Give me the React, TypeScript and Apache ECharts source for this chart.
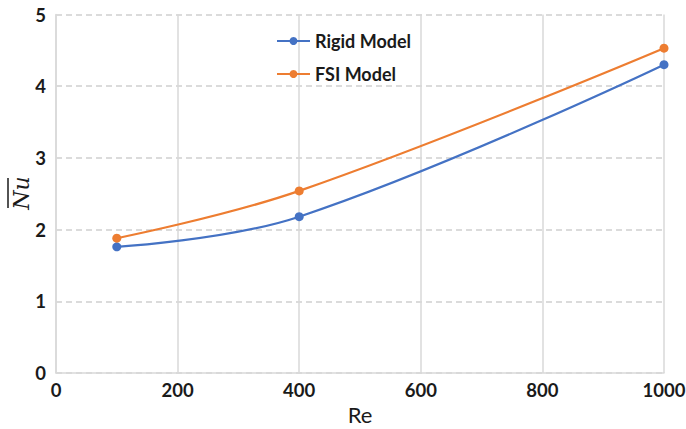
import React, { useEffect, useRef } from "react";
import * as echarts from "echarts";

const reValues = [100, 400, 1000];
const rigidNu = [1.76, 2.18, 4.3];
const fsiNu = [1.88, 2.54, 4.53];
const seriesNames = ["Rigid Model", "FSI Model"];
const xTicks = { min: 0, max: 1000, interval: 200 };
const yTicks = { min: 0, max: 5, interval: 1 };

export default function App() {
  const ref = useRef<HTMLDivElement>(null);
  useEffect(() => {
    if (!ref.current) return;
    const chart = echarts.init(ref.current, undefined, { renderer: "svg" });
    const labelFont = {
      fontFamily: "Lato, 'Open Sans', sans-serif",
      fontWeight: "bold" as const,
      fontSize: 18.5,
      color: "#1a1a1a",
    };
    chart.setOption({
      animation: false,
      backgroundColor: "#ffffff",
      grid: { left: 56, right: 22, top: 14.5, bottom: 56, containLabel: false, outerBoundsMode: "none" },
      legend: {
        orient: "vertical",
        left: 271,
        top: 27,
        itemWidth: 33,
        itemHeight: 10,
        itemGap: 15,
        textStyle: {
          fontFamily: "Lato, 'Open Sans', sans-serif",
          fontWeight: "bold",
          fontSize: 18,
          color: "#1a1a1a",
        },
        data: seriesNames,
      },
      xAxis: {
        type: "value",
        min: xTicks.min,
        max: xTicks.max,
        interval: xTicks.interval,
        name: "Re",
        nameLocation: "middle",
        nameGap: 26,
        nameTextStyle: {
          fontFamily: "Lato, 'Open Sans', sans-serif",
          fontSize: 22,
          color: "#1a1a1a",
        },
        axisLine: { lineStyle: { color: "#d9d9d9", width: 1.5 } },
        axisTick: { show: false },
        axisLabel: { ...labelFont, margin: 7, formatter: (v: number) => String(v) },
        splitLine: { show: true, lineStyle: { color: "#d9d9d9", width: 1.5, type: "solid" } },
      },
      yAxis: {
        type: "value",
        min: yTicks.min,
        max: yTicks.max,
        interval: yTicks.interval,
        axisLine: { show: true, lineStyle: { color: "#d9d9d9", width: 1.5 } },
        axisTick: { show: false },
        axisLabel: { ...labelFont, margin: 10 },
        splitLine: { show: true, lineStyle: { color: "#d0d0d0", width: 1.5, type: [6, 4] } },
      },
      graphic: [
        {
          type: "group",
          x: 21,
          y: 193,
          rotation: Math.PI / 2,
          children: [
            {
              type: "text",
              x: 0,
              y: 0,
              style: {
                text: "Nu",
                fontFamily: "'DejaVu Serif', 'Liberation Serif', serif",
                fontStyle: "italic",
                fontSize: 22,
                fill: "#1a1a1a",
                align: "center",
                verticalAlign: "middle",
              },
            },
            {
              type: "line",
              shape: { x1: -15, y1: -13, x2: 15, y2: -13 },
              style: { stroke: "#1a1a1a", lineWidth: 1.5 },
            },
          ],
        },
      ],
      series: [
        {
          name: seriesNames[0],
          type: "line",
          smooth: 0.4,
          data: reValues.map((x, i) => [x, rigidNu[i]]),
          symbol: "circle",
          symbolSize: 9,
          itemStyle: { color: "#4472C4" },
          lineStyle: { color: "#4472C4", width: 2.2 },
        },
        {
          name: seriesNames[1],
          type: "line",
          smooth: 0.4,
          data: reValues.map((x, i) => [x, fsiNu[i]]),
          symbol: "circle",
          symbolSize: 9,
          itemStyle: { color: "#ED7D31" },
          lineStyle: { color: "#ED7D31", width: 2.2 },
        },
      ],
    });
    return () => chart.dispose();
  }, []);
  return <div ref={ref} style={{ width: 686, height: 429, position: "absolute", left: 0, top: 0 }} />;
}
